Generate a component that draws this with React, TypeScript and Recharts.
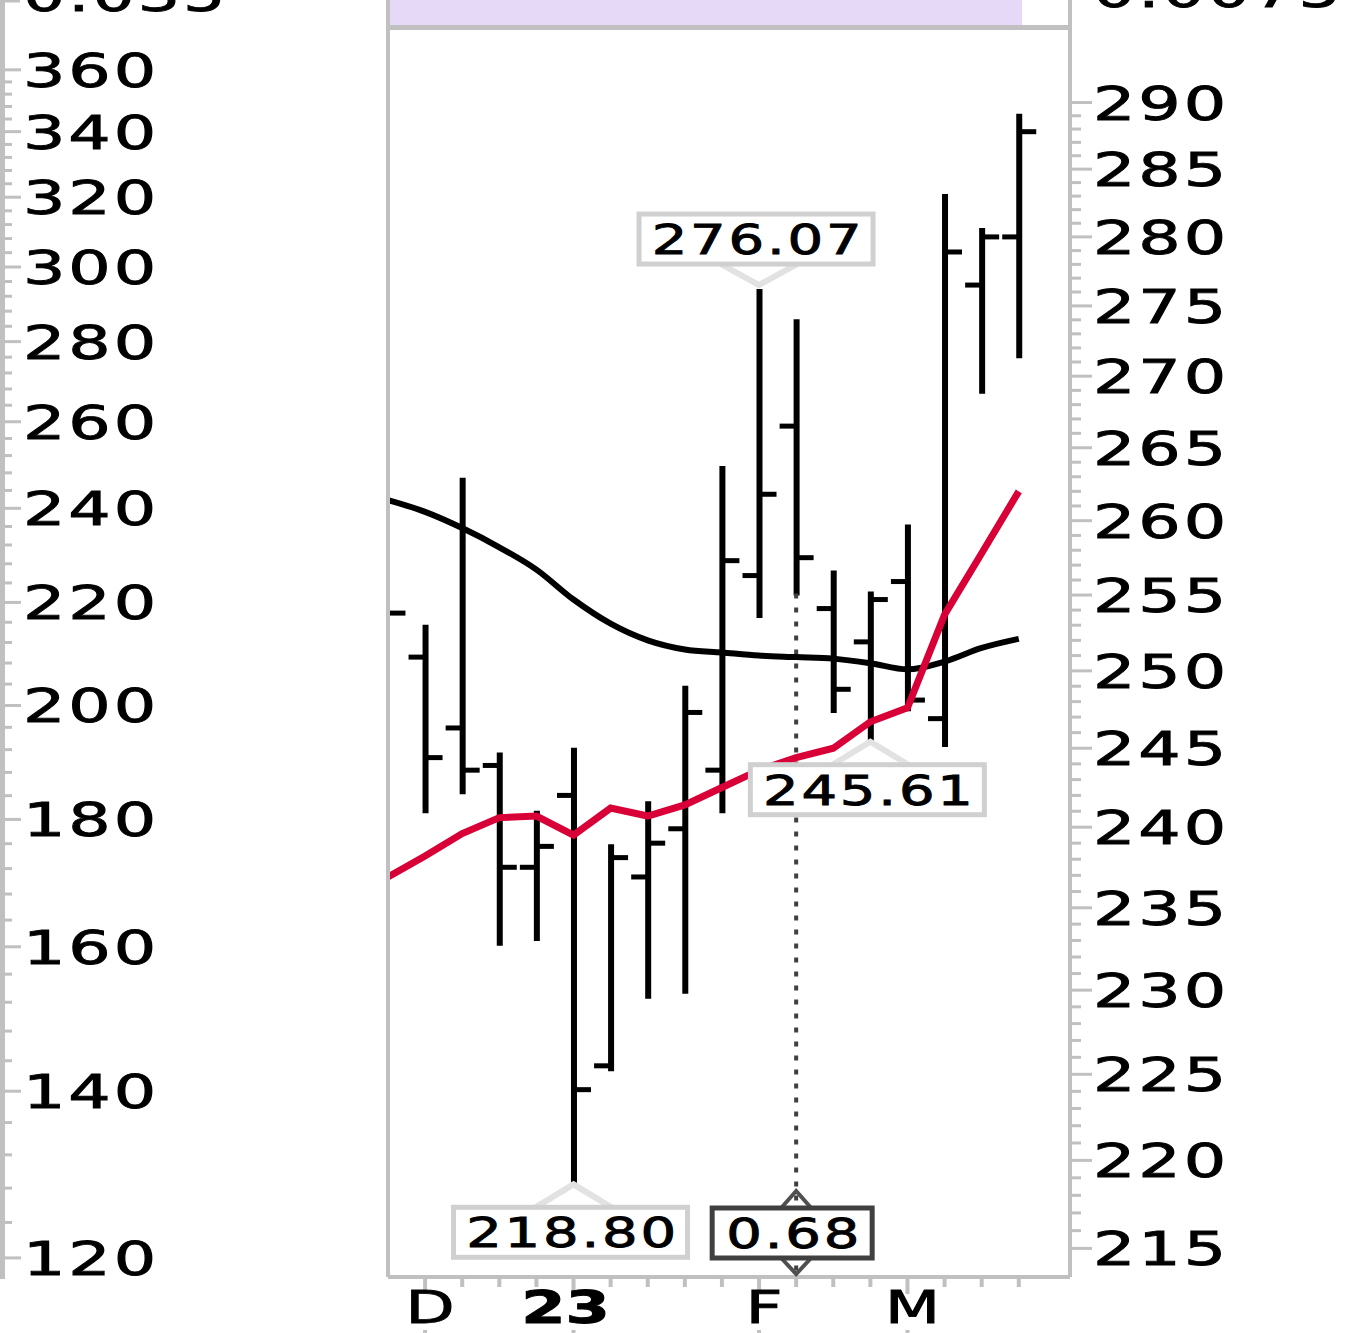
import React from "react";
import {
  Bar,
  ComposedChart,
  Customized,
  Line,
  ReferenceDot,
  ReferenceLine,
  XAxis,
  YAxis,
} from "recharts";

// weekly bars, index -1 sits on the left edge of the plot
const weeks = [-1, 0, 1, 2, 3, 4, 5, 6, 7, 8, 9, 10, 11, 12, 13, 14, 15, 16];
const opens = [255.2, 250.9, 246.3, 243.9, 237.5, 242.0, 225.5, 236.9, 239.9, 243.6, 256.3, 266.5, 254.1, 251.9, 255.9, 246.9, 276.5, 280.0];
const highs = [256.4, 252.9, 262.8, 244.6, 240.9, 244.9, 238.8, 241.5, 248.9, 263.6, 276.07, 273.9, 256.5, 255.1, 259.6, 283.0, 280.5, 289.0];
const lows = [252.6, 241.0, 242.2, 232.8, 233.1, 218.8, 225.3, 229.6, 229.9, 241.0, 253.6, 255.1, 247.4, 245.61, 247.5, 245.2, 268.9, 271.4];
const closes = [253.8, 244.4, 243.6, 237.5, 238.8, 224.1, 238.1, 239.0, 247.3, 257.3, 261.8, 257.5, 248.8, 254.7, 248.1, 278.9, 280.0, 287.8];
const maLong = [261.4, 260.6, 259.5, 258.2, 256.7, 254.7, 253.1, 252.0, 251.4, 251.2, 251.0, 250.9, 250.8, 250.5, 250.1, 250.6, 251.5, 252.1];
const maShort = [236.9, 238.2, 239.6, 240.6, 240.7, 239.5, 241.2, 240.7, 241.4, 242.5, 243.6, 244.4, 245.0, 246.7, 247.6, 253.7, 257.8, 262.0];

const monthLabels: Record<number, string> = { 0: "D", 4: "23", 9: "F", 13: "M" };
const leftLabels = [120, 140, 160, 180, 200, 220, 240, 260, 280, 300, 320, 340, 360];
const rightLabels = [215, 220, 225, 230, 235, 240, 245, 250, 255, 260, 265, 270, 275, 280, 285, 290];

const highNote = { week: 9, value: 276.07, text: "276.07" };
const lowNotes = [
  { week: 4, value: 218.8, text: "218.80" },
  { week: 12, value: 245.61, text: "245.61" },
];
const cursor = { week: 10, text: "0.68" };

const RIGHT_DOMAIN: [number, number] = [213.4, 295.7];
const LEFT_DOMAIN: [number, number] = [117.9, 374.2];
const GRID = "#c0c0c0";
const FONT = "'DejaVu Sans', sans-serif";

const data = weeks.map((i, k) => ({
  i,
  range: [lows[k], highs[k]],
  open: opens[k],
  high: highs[k],
  low: lows[k],
  close: closes[k],
  maLong: maLong[k],
  maShort: maShort[k],
}));

const leftTicks: number[] = [];
for (let v = 120; v <= 360; v += 4) leftTicks.push(v);
const rightTicks: number[] = [];
for (let v = 215; v <= 290; v++) rightTicks.push(v);
const xTicks = weeks.filter((w) => w >= 0);

function Txt({ x, y, children, size = 46, sx = 1.45, ls = 2, anchor = "start", weight = "normal" }: any) {
  return (
    <text
      transform={`translate(${x},${y}) scale(${sx},1)`}
      fontFamily={FONT}
      fontSize={size}
      letterSpacing={ls}
      textAnchor={anchor}
      fontWeight={weight}
      fill="#000"
      stroke="#000"
      strokeWidth={0.9}
    >
      {children}
    </text>
  );
}

function LeftTick({ y, payload }: any) {
  const major = leftLabels.includes(payload.value);
  return (
    <g>
      <line x1={5} x2={major ? 21 : 12} y1={y} y2={y} stroke={GRID} strokeWidth={3} />
      {major && <Txt x={23} y={y + 17}>{payload.value}</Txt>}
    </g>
  );
}

function RightTick({ y, payload }: any) {
  const major = rightLabels.includes(payload.value);
  return (
    <g>
      <line x1={1072} x2={major ? 1092 : 1081} y1={y} y2={y} stroke={GRID} strokeWidth={3} />
      {major && <Txt x={1093} y={y + 17}>{payload.value}</Txt>}
    </g>
  );
}

function XTick({ x, payload }: any) {
  const label = monthLabels[payload.value];
  const top = 1279;
  return (
    <g>
      <line x1={x} x2={x} y1={top} y2={top + (label ? 15 : 8)} stroke={GRID} strokeWidth={4} />
      {label && (
        <>
          <Txt
            x={label === "23" ? x - 8 : x + 5}
            y={1323}
            size={44}
            anchor="middle"
            ls={0}
            weight={label === "23" ? "bold" : "normal"}
          >
            {label}
          </Txt>
          <line x1={x} x2={x} y1={1330} y2={1333} stroke={GRID} strokeWidth={4} />
        </>
      )}
    </g>
  );
}

function OhlcShape(props: any) {
  const { x, y, width, height, payload } = props;
  const cx = x + width / 2;
  const top = height >= 0 ? y : y + height;
  const h = Math.abs(height);
  const lh = Math.log(payload.high);
  const ll = Math.log(payload.low);
  const pos = (v: number) => top + (h * (lh - Math.log(v))) / (lh - ll);
  const edge = payload.i < 0;
  return (
    <g>
      {!edge && <line x1={cx} x2={cx} y1={top - 2} y2={top + h + 2} stroke="#000" strokeWidth={6} />}
      {!edge && <line x1={cx - 17} x2={cx} y1={pos(payload.open)} y2={pos(payload.open)} stroke="#000" strokeWidth={5} />}
      <line x1={cx} x2={cx + 17} y1={pos(payload.close)} y2={pos(payload.close)} stroke="#000" strokeWidth={5} />
    </g>
  );
}

function Callout({ cx, cy, text, below }: any) {
  const w = 234;
  const h = 50;
  const left = cx - 120;
  const top = below ? cy + 26 : cy - 77;
  const edge = below ? top : top + h;
  const apex = below ? cy + 3 : cy - 6;
  return (
    <g>
      <polyline
        points={`${cx - 38},${edge} ${cx},${apex} ${cx + 38},${edge}`}
        fill="none"
        stroke="#e2e2e2"
        strokeWidth={6}
      />
      <rect x={left} y={top} width={w} height={h} fill="#fff" stroke="#d0d0d0" strokeWidth={5} />
      <Txt x={left + w / 2 + 2} y={top + 40} size={40} sx={1.4} ls={2} anchor="middle">
        {text}
      </Txt>
    </g>
  );
}

function CursorBox({ cx, cy, text }: any) {
  const w = 160;
  const h = 50;
  const left = cx - 84;
  const top = cy - 69;
  return (
    <g>
      <polyline points={`${cx - 15},${top} ${cx},${top - 17} ${cx + 15},${top}`} fill="none" stroke="#505050" strokeWidth={4} />
      <polyline points={`${cx - 15},${top + h} ${cx},${top + h + 16} ${cx + 15},${top + h}`} fill="none" stroke="#505050" strokeWidth={4} />
      <rect x={left} y={top} width={w} height={h} fill="#fff" stroke="#404040" strokeWidth={5} />
      <Txt x={left + w / 2 + 2} y={top + 40} size={40} sx={1.4} ls={2} anchor="middle">
        {text}
      </Txt>
    </g>
  );
}

// bits of the pane above that poke into the picture
function TopStrip() {
  return (
    <g>
      <rect x={390} y={0} width={632} height={25} fill="#e6d9f7" />
      <line x1={386} x2={1072} y1={27.5} y2={27.5} stroke={GRID} strokeWidth={5} />
      <line x1={388} x2={388} y1={0} y2={30} stroke={GRID} strokeWidth={4} />
      <line x1={1070} x2={1070} y1={0} y2={30} stroke={GRID} strokeWidth={4} />
      <line x1={2.5} x2={2.5} y1={0} y2={1279} stroke={GRID} strokeWidth={5} />
      <line x1={5} x2={20} y1={1} y2={1} stroke={GRID} strokeWidth={3} />
      <Txt x={23} y={11}>0.035</Txt>
      <Txt x={1093} y={7}>0.0075</Txt>
    </g>
  );
}

export default function App() {
  return (
    <div style={{ width: 1348, height: 1333, background: "#fff", overflow: "hidden" }}>
      <style>{"body{margin:0;background:#fff}"}</style>
      <ComposedChart
        width={1348}
        height={1333}
        data={data}
        margin={{ top: 28, right: 0, bottom: 0, left: 0 }}
      >
        <XAxis
          dataKey="i"
          type="number"
          domain={[-1, 17.38]}
          allowDataOverflow
          ticks={xTicks}
          interval={0}
          height={56}
          axisLine={{ stroke: GRID, strokeWidth: 4 }}
          tickLine={false}
          tick={<XTick />}
        />
        <YAxis
          yAxisId="left"
          orientation="left"
          width={388}
          scale="log"
          domain={LEFT_DOMAIN}
          allowDataOverflow
          ticks={leftTicks}
          interval={0}
          axisLine={{ stroke: GRID, strokeWidth: 4 }}
          tickLine={false}
          tick={<LeftTick />}
        />
        <YAxis
          yAxisId="right"
          orientation="right"
          width={278}
          scale="log"
          domain={RIGHT_DOMAIN}
          allowDataOverflow
          ticks={rightTicks}
          interval={0}
          axisLine={{ stroke: GRID, strokeWidth: 4 }}
          tickLine={false}
          tick={<RightTick />}
        />
        <Customized component={TopStrip} />
        <ReferenceLine
          yAxisId="right"
          segment={[
            { x: cursor.week, y: lows[weeks.indexOf(cursor.week)] },
            { x: cursor.week, y: RIGHT_DOMAIN[0] },
          ]}
          stroke="#404040"
          strokeWidth={4}
          strokeDasharray="5 9"
        />
        <Line
          yAxisId="right"
          dataKey="maLong"
          type="monotone"
          stroke="#000"
          strokeWidth={6}
          dot={false}
          isAnimationActive={false}
        />
        <Line
          yAxisId="right"
          dataKey="maShort"
          type="linear"
          stroke="#d80036"
          strokeWidth={7}
          dot={false}
          isAnimationActive={false}
        />
        <Bar
          yAxisId="right"
          dataKey="range"
          barSize={34}
          shape={<OhlcShape />}
          isAnimationActive={false}
        />
        <ReferenceDot
          yAxisId="right"
          x={highNote.week}
          y={highNote.value}
          ifOverflow="visible"
          shape={(p: any) => <Callout cx={p.cx} cy={p.cy} text={highNote.text} below={false} />}
        />
        {lowNotes.map((n) => (
          <ReferenceDot
            key={n.text}
            yAxisId="right"
            x={n.week}
            y={n.value}
            ifOverflow="visible"
            shape={(p: any) => <Callout cx={p.cx} cy={p.cy} text={n.text} below />}
          />
        ))}
        <ReferenceDot
          yAxisId="right"
          x={cursor.week}
          y={RIGHT_DOMAIN[0]}
          ifOverflow="visible"
          shape={(p: any) => <CursorBox cx={p.cx} cy={p.cy} text={cursor.text} />}
        />
      </ComposedChart>
    </div>
  );
}
